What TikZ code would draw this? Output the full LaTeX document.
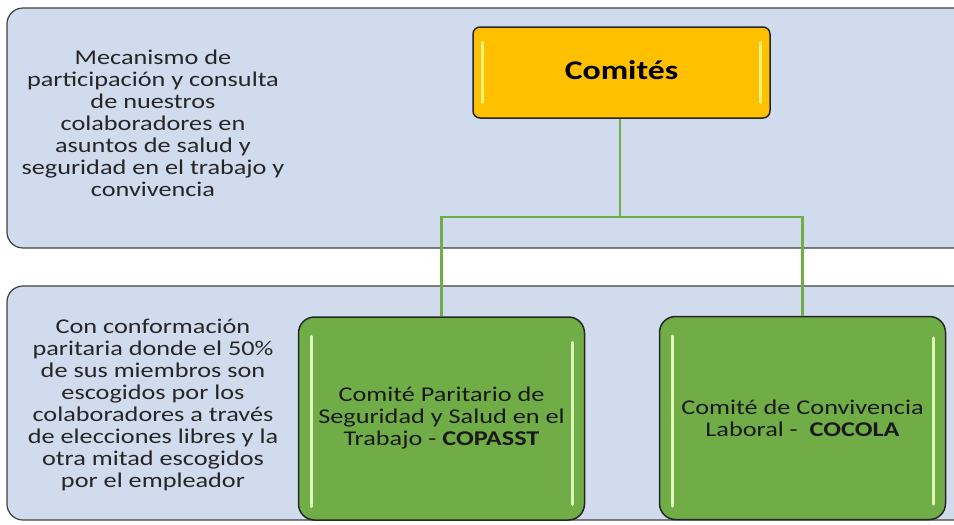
\documentclass[tikz,border=0pt]{standalone}
\usepackage{fontspec}
\setmainfont[FakeStretch=1.25]{Carlito}
\definecolor{panelfill}{HTML}{D0DBEE}
\definecolor{panelline}{HTML}{404040}
\definecolor{gold}{HTML}{FFC000}
\definecolor{leaf}{HTML}{70AD47}
\definecolor{leafhl}{HTML}{DDF7B8}
\definecolor{goldhl}{HTML}{FFF27A}
\begin{document}
\begin{tikzpicture}[x=1pt,y=-1pt,
  panel/.style={draw=panelline,line width=1.2pt,fill=panelfill,rounded corners=16pt},
  desc/.style={align=center,font=\fontsize{21}{22}\selectfont,text=black!85},
  topbox/.style={draw=black!85,line width=1.5pt,fill=gold,rounded corners=7pt,minimum width=297pt,minimum height=91pt,font=\fontsize{27}{30}\selectfont\bfseries},
  leafbox/.style={draw=black!85,line width=1.5pt,fill=leaf,rounded corners=16pt,minimum width=286pt,minimum height=203pt,align=center,font=\fontsize{21}{22}\selectfont,text=black!90},
  conn/.style={draw=leaf,line width=2.5pt},
  hl/.style={line width=2.6pt,line cap=round},
]
\useasboundingbox (0,0) rectangle (954,525);
\clip (0,0) rectangle (954,525);
\fill[white] (0,0) rectangle (954,525);
% panels
\path[panel] (7,8) rectangle (985,248);
\path[panel] (7,286) rectangle (985,520);
% description texts
\node[desc] (topdesc) at (153,123) {Mecanismo de\\participación y consulta\\de nuestros\\colaboradores en\\asuntos de salud y\\seguridad en el trabajo y\\convivencia};
\node[desc] (botdesc) at (153,405) {Con conformación\\paritaria donde el 50\%\\de sus miembros son\\escogidos por los\\colaboradores a través\\de elecciones libres y la\\otra mitad escogidos\\por el empleador};
% boxes
\node[topbox] (comites) at (621.5,72.5) {\raisebox{4pt}{Comités}};
\node[leafbox] (copasst) at (441.5,418.5) {Comité Paritario de\\Seguridad y Salud en el\\Trabajo - \textbf{COPASST}};
\node[leafbox] (cocola) at (802.5,418) {Comité de Convivencia\\Laboral - \ \textbf{COCOLA}};
% highlights
\draw[hl,goldhl] ([xshift=10pt,yshift=-16pt]comites.north west) -- ([xshift=10pt,yshift=16pt]comites.south west);
\draw[hl,goldhl] ([xshift=-10pt,yshift=-16pt]comites.north east) -- ([xshift=-10pt,yshift=16pt]comites.south east);
\draw[hl,leafhl] ([xshift=14pt,yshift=-20pt]copasst.north west) -- ([xshift=14pt,yshift=14pt]copasst.south west);
\draw[hl,leafhl] ([xshift=-13pt,yshift=-26pt]copasst.north east) -- ([xshift=-13pt,yshift=16pt]copasst.south east);
\draw[hl,leafhl] ([xshift=14pt,yshift=-20pt]cocola.north west) -- ([xshift=14pt,yshift=14pt]cocola.south west);
\draw[hl,leafhl] ([xshift=-13pt,yshift=-22pt]cocola.north east) -- ([xshift=-13pt,yshift=16pt]cocola.south east);
% connectors
\coordinate (split) at (620,217);
\draw[conn] ([xshift=-1.5pt]comites.south) -- ([xshift=-1.5pt]comites.south |- split) -| (copasst.north);
\draw[conn] ([xshift=-1.5pt]comites.south |- split) -| (cocola.north);
\end{tikzpicture}
\end{document}
